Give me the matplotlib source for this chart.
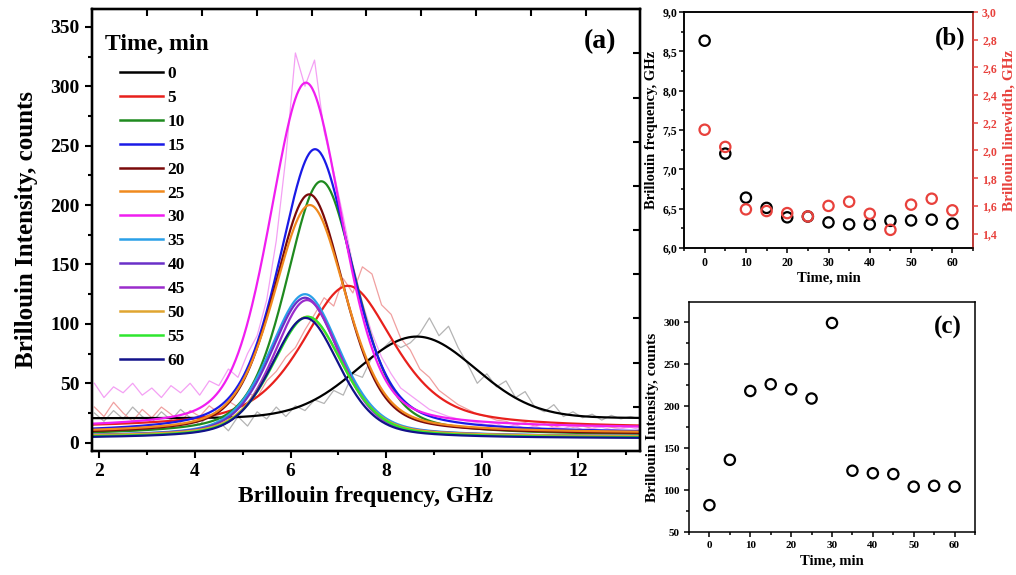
import numpy as np
import matplotlib
matplotlib.use("Agg")
import matplotlib.pyplot as plt
from matplotlib.ticker import MultipleLocator, FuncFormatter

plt.rcParams['font.family'] = ['Liberation Serif', 'DejaVu Serif']
plt.rcParams['font.weight'] = 'bold'
plt.rcParams['axes.labelweight'] = 'bold'

# ---------------- data ----------------
times = [0, 5, 10, 15, 20, 25, 30, 35, 40, 45, 50, 55, 60]
colors = ['#000000', '#e8201c', '#1f8a1f', '#1a1ae6', '#7a0a0a', '#f08a1e',
          '#f01ef0', '#2aa0e8', '#6a30c8', '#9a2ccc', '#e0a530', '#2ee62e', '#12128a']

# fitted-peak parameters
peak_center = [8.635, 7.20, 6.64, 6.51, 6.39, 6.40, 6.32, 6.30, 6.30, 6.34, 6.35, 6.36, 6.31]
peak_height = [89.3, 132, 220, 247, 209, 200, 303, 125, 122, 120, 106, 106, 105]
baseline = [20.5, 12, 6, 8, 7, 8, 12, 5, 5, 4, 5, 4, 3.5]
peak_fwhm = [2.9, 2.3, 1.75, 1.8, 1.75, 1.8, 1.8, 1.75, 1.7, 1.65, 1.75, 1.75, 1.7]
peak_eta = [0.05, 0.6, 0.4, 0.45, 0.4, 0.4, 0.35, 0.4, 0.4, 0.4, 0.4, 0.4, 0.4]

# raw spectra (estimated by eye, 0.2 GHz step) for the most visible traces
raw_freq = [1.9, 2.1, 2.3, 2.5, 2.7, 2.9, 3.1, 3.3, 3.5, 3.7, 3.9, 4.1, 4.3, 4.5,
            4.7, 4.9, 5.1, 5.3, 5.5, 5.7, 5.9, 6.1, 6.3, 6.5, 6.7, 6.9, 7.1, 7.3,
            7.5, 7.7, 7.9, 8.1, 8.3, 8.5, 8.7, 8.9, 9.1, 9.3, 9.5, 9.7, 9.9, 10.1,
            10.3, 10.5, 10.7, 10.9, 11.1, 11.3, 11.5, 11.7, 11.9, 12.1, 12.3, 12.5,
            12.7, 12.9, 13.1, 13.3]
raw_0min = [25, 18, 27, 20, 30, 22, 17, 26, 19, 28, 21, 15, 24, 18,
            10, 22, 14, 26, 20, 30, 22, 31, 27, 36, 33, 44, 40, 58,
            55, 72, 78, 86, 80, 84, 92, 105, 90, 98, 80, 66, 50, 58,
            47, 52, 38, 43, 30, 26, 32, 22, 26, 21, 24, 19,
            23, 20, 22, 20]
raw_5min = [30, 22, 34, 25, 18, 28, 21, 30, 24, 17, 27, 22, 31, 25,
            35, 30, 42, 38, 52, 60, 72, 80, 95, 108, 122, 115, 138, 126,
            148, 142, 116, 108, 88, 78, 62, 55, 44, 38, 32, 28, 24, 22,
            19, 18, 15, 17, 14, 16, 13, 15, 13, 14, 12, 14,
            13, 12, 14, 13]
raw_30min = [50, 38, 47, 42, 50, 40, 46, 38, 48, 42, 50, 40, 52, 48,
             62, 55, 75, 90, 120, 170, 240, 328, 300, 322, 262, 228, 190, 150,
             118, 92, 72, 58, 46, 40, 34, 28, 25, 22, 20, 18, 17, 15,
             16, 13, 15, 12, 14, 11, 13, 12, 14, 11, 12, 13,
             11, 12, 13, 11]

# panel (b)
bri_freq = [8.635, 7.20, 6.64, 6.51, 6.39, 6.40, 6.325, 6.30, 6.30, 6.345, 6.35, 6.36, 6.31]
bri_width = [2.15, 2.026, 1.575, 1.563, 1.548, 1.524, 1.60, 1.63, 1.543, 1.427, 1.609, 1.652, 1.568]
# panel (c)
bri_int = [82, 136, 218, 226, 220, 209, 299, 123, 120, 119, 104, 105, 104]

# unlabelled mirror ticks (linked layers) of panel (a)
a_top_ticks = [3.0, 4.146, 5.29, 6.44, 7.58, 8.73, 9.875, 11.02, 12.17]
a_right_ticks = [30.3, 67.2, 104.7, 141.8, 179.0, 216.0, 252.9, 289.9, 327.7]

# ---------------- figure ----------------
fig = plt.figure(figsize=(10.16, 5.75), dpi=100)
W, H = 1016, 575


def rect(l, t, r, b):
    return [l / W, (H - b) / H, (r - l) / W, (b - t) / H]


def pv(x, xc, f, eta):
    L = f ** 2 / (4 * (x - xc) ** 2 + f ** 2)
    G = np.exp(-4 * np.log(2) * (x - xc) ** 2 / f ** 2)
    return eta * L + (1 - eta) * G


# ---- panel (a)
ax = fig.add_axes(rect(92, 9, 640, 451))
ax.plot(raw_freq, raw_0min, color='#b4b4b4', lw=0.9, zorder=1)
ax.plot(raw_freq, raw_5min, color='#f0a0a0', lw=0.9, zorder=1)
ax.plot(raw_freq, raw_30min, color='#f4a0f4', lw=0.9, zorder=1)
x = np.linspace(1.85, 13.3, 600)
for i, t in enumerate(times):
    y = baseline[i] + (peak_height[i] - baseline[i]) * pv(x, peak_center[i], peak_fwhm[i], peak_eta[i])
    ax.plot(x, y, color=colors[i], lw=1.6, label=str(t), zorder=2)
ax.set_xlim(1.85, 13.3)
ax.set_ylim(-7, 365)
ax.xaxis.set_major_locator(MultipleLocator(2))
ax.xaxis.set_minor_locator(MultipleLocator(1))
ax.yaxis.set_major_locator(MultipleLocator(50))
ax.yaxis.set_minor_locator(MultipleLocator(25))
ax.tick_params(which='both', direction='out', width=1.5, labelsize=14)
ax.tick_params(which='major', length=5, pad=4)
ax.tick_params(which='minor', length=3)
for s in ax.spines.values():
    s.set_linewidth(1.6)
ax.set_xlabel('Brillouin frequency, GHz', fontsize=17, fontweight='bold', labelpad=4)
ax.set_ylabel('Brillouin Intensity, counts', fontsize=18, fontweight='bold', labelpad=9)
ax.text(0.956, 0.955, '(a)', transform=ax.transAxes, ha='right', va='top',
        fontsize=20, fontweight='bold')
axt = ax.twiny()
axt.set_xlim(ax.get_xlim())
axt.set_xticks(a_top_ticks)
axt.tick_params(axis='x', direction='in', length=5, width=1.5, labeltop=False)
axr = ax.twinx()
axr.set_ylim(ax.get_ylim())
axr.set_yticks(a_right_ticks)
axr.tick_params(axis='y', direction='in', length=5, width=1.5, labelright=False)
for s in list(axt.spines.values()) + list(axr.spines.values()):
    s.set_linewidth(1.6)

ax.text((105 - 92) / 548, (451 - 44) / 442, 'Time, min', transform=ax.transAxes,
        ha='left', va='center', fontsize=17, fontweight='bold', zorder=6)
leg = ax.legend(loc='upper left', bbox_to_anchor=((120 - 92) / 548, (451 - 66) / 442),
                frameon=False, fontsize=12.5,
                handlelength=2.45, handletextpad=0.3, labelspacing=0.445,
                borderaxespad=0, borderpad=0)
for txt in leg.get_texts():
    txt.set_fontweight('bold')
for ln in leg.get_lines():
    ln.set_linewidth(1.8)
leg.set_zorder(5)

comma = FuncFormatter(lambda v, p: ('%.1f' % v).replace('.', ','))

# ---- panel (b)
bx = fig.add_axes(rect(684, 12, 973, 248))
bx.scatter(times, bri_freq, s=55, facecolors='none', edgecolors='black', linewidths=1.6, zorder=3)
bx.set_xlim(-5, 65)
bx.set_ylim(6.0, 9.0)
bx.xaxis.set_major_locator(MultipleLocator(10))
bx.xaxis.set_minor_locator(MultipleLocator(5))
bx.yaxis.set_major_locator(MultipleLocator(0.5))
bx.yaxis.set_minor_locator(MultipleLocator(0.25))
bx.yaxis.set_major_formatter(comma)
bx.tick_params(which='both', direction='out', width=1.1, labelsize=8.5)
bx.tick_params(which='major', length=3.5, pad=1.5)
bx.tick_params(which='minor', length=2)
bx.tick_params(axis='x', which='major', pad=3)
bx.set_xlabel('Time, min', fontsize=10.5, fontweight='bold', labelpad=2)
bx.set_ylabel('Brillouin frequency, GHz', fontsize=10.5, fontweight='bold', labelpad=3)
for s in bx.spines.values():
    s.set_linewidth(1.1)
bx.text(0.975, 0.94, '(b)', transform=bx.transAxes, ha='right', va='top',
        fontsize=18, fontweight='bold')
bx2 = bx.twinx()
red2 = '#e8413c'
bx2.scatter(times, bri_width, s=55, facecolors='none', edgecolors=red2, linewidths=1.6, zorder=4)
bx2.set_ylim(1.296, 3.0)
bx2.yaxis.set_major_locator(MultipleLocator(0.2))
bx2.yaxis.set_major_formatter(comma)
bx2.tick_params(axis='y', direction='out', length=3.5, width=1.1, labelsize=8.5,
                colors=red2, pad=3)
for s in bx2.spines.values():
    s.set_linewidth(1.1)
bx2.spines['right'].set_color(red2)
bx2.set_ylabel('Brillouin linewidth, GHz', fontsize=11, fontweight='bold', color=red2, labelpad=4)

# ---- panel (c)
cx = fig.add_axes(rect(689, 302, 975, 532))
cx.scatter(times, bri_int, s=55, facecolors='none', edgecolors='black', linewidths=1.6, zorder=3)
cx.set_xlim(-5, 65)
cx.set_ylim(50, 324)
cx.xaxis.set_major_locator(MultipleLocator(10))
cx.xaxis.set_minor_locator(MultipleLocator(5))
cx.yaxis.set_major_locator(MultipleLocator(50))
cx.yaxis.set_minor_locator(MultipleLocator(25))
cx.tick_params(which='both', direction='out', width=1.1, labelsize=8)
cx.tick_params(which='major', length=3.5, pad=3)
cx.tick_params(which='minor', length=2)
cx.set_xlabel('Time, min', fontsize=10.5, fontweight='bold', labelpad=3)
cx.set_ylabel('Brillouin Intensity, counts', fontsize=11, fontweight='bold', labelpad=3)
for s in cx.spines.values():
    s.set_linewidth(1.1)
cx.text(0.955, 0.94, '(c)', transform=cx.transAxes, ha='right', va='top',
        fontsize=18, fontweight='bold')

fig.savefig('out.png', dpi=100)
